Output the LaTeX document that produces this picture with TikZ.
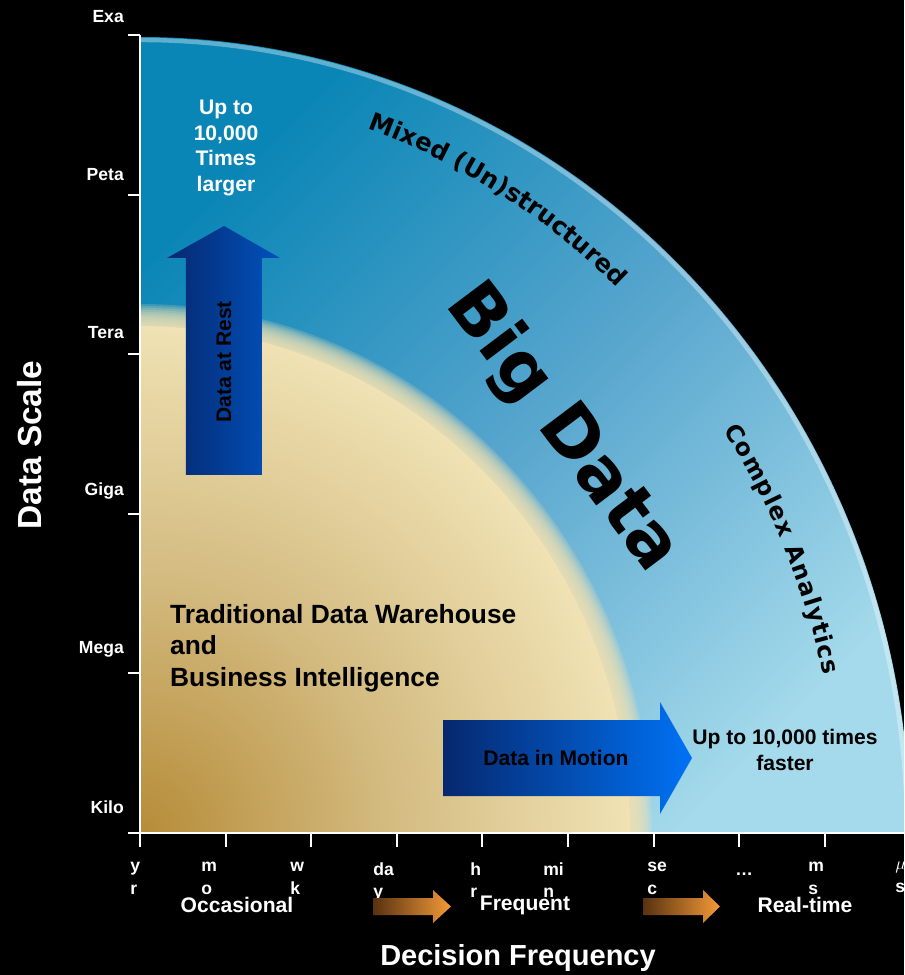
\documentclass[tikz,border=0pt]{standalone}
\usepackage{fontspec}
\setmainfont{Liberation Sans}
\newfontfamily\roundfont{DejaVu Sans}
\usepackage{tikz}
\usetikzlibrary{positioning, decorations.text}
\definecolor{deepteal}{RGB}{10,134,182}
\definecolor{midblue}{RGB}{88,166,206}
\definecolor{paleblue}{RGB}{164,218,235}
\definecolor{darkgold}{RGB}{182,140,56}
\definecolor{tanbeige}{RGB}{212,188,130}
\definecolor{cream}{RGB}{240,226,180}
\definecolor{navyblue}{RGB}{6,40,110}
\definecolor{brightblue}{RGB}{0,114,245}
\definecolor{restblue}{RGB}{0,82,190}
\definecolor{rustbrown}{RGB}{88,50,16}
\definecolor{flameorange}{RGB}{244,154,56}
\pgfdeclareradialshading{warehouse}{\pgfpointorigin}{color(0bp)=(darkgold); color(13bp)=(tanbeige); color(25bp)=(cream); color(50bp)=(cream)}

\begin{document}
\begin{tikzpicture}[x=0.02cm, y=0.02cm,
    axislabel/.style={text=white, font=\bfseries\fontsize{10}{13}\selectfont},
    ticklabel/.style={text=white, font=\bfseries\fontsize{10}{13}\selectfont, align=left, anchor=north west, inner sep=0pt},
    phase/.style={text=white, font=\bfseries\fontsize{12}{14}\selectfont},
    bodytext/.style={font=\bfseries\fontsize{12}{14.5}\selectfont, align=center}]
    % Canvas
    \clip (-140,-142) rectangle (764,833);
    \fill[black] (-140,-142) rectangle (764,833);

    % Big data quadrant
    \shade[top color=deepteal, bottom color=paleblue, middle color=midblue, shading angle=45]
        (0,0) -- (0,796) arc[start angle=90, end angle=0, x radius=770, y radius=796] -- cycle;
    \draw[white, opacity=0.35, line width=2.5pt]
        (0,793) arc[start angle=90, end angle=0, x radius=767, y radius=793];

    % Warehouse quadrant with a soft rim
    \begin{scope}
        \clip (0,0) rectangle (770,800);
        \foreach \d in {12,10,...,-8}
            \shade[shading=warehouse, opacity=0.2]
                (0,0) ellipse [x radius=500+\d, y radius=517+\d];
        \shade[shading=warehouse]
            (0,0) ellipse [x radius=490, y radius=507];
    \end{scope}

    % Axes and ticks
    \draw[white, line width=1.1pt] (0,-14) -- (0,798);
    \draw[white, line width=1.1pt] (0,0) -- (764,0);
    \foreach \k in {0,...,5}
        \draw[white, line width=1.1pt] (-12,159.6*\k) -- (0,159.6*\k);
    \foreach \k in {0,...,8}
        \draw[white, line width=1.1pt] (85.6*\k,0) -- (85.6*\k,-14);

    % Scale labels
    \foreach \yy/\name in {816/Exa,658/Peta,500/Tera,342/Giga,184/Mega,26/Kilo}
        \node[axislabel, anchor=east] (\name) at (-10,\yy) {\name};
    \foreach \xx/\name/\txt in {-10/yr/{y\\r}, 61/mo/{m\\o}, 150/wk/{w\\k}, 233/day/{da\\y},
            330/hr/{h\\r}, 403/min/{mi\\n}, 507/sec/{se\\c}, 595/dots/{\vphantom{d}\ldots}, 668/ms/{m\\s},
            755/us/{$\mu$\\s}}
        \node[ticklabel] (f-\name) at (\xx,-29) {\txt};

    \node[text=white, font=\bfseries\fontsize{19}{21}\selectfont, rotate=90] (datascale) at (-110,388) {Data Scale};

    % Frequency phases
    \node[phase] (occasional) at (97,-72) {Occasional};
    \node[phase] (frequent) at (385,-72) {Frequent};
    \node[phase] (realtime) at (665,-72) {Real-time};
    \shade[left color=rustbrown, right color=flameorange]
        (233,-65) -- (293,-65) -- (293,-57) -- (311,-73.5) -- (293,-90) -- (293,-82) -- (233,-82) -- cycle;
    \shade[left color=rustbrown, right color=flameorange]
        (503,-65) -- (563,-65) -- (563,-57) -- (580,-73.5) -- (563,-90) -- (563,-82) -- (503,-82) -- cycle;
    \node[text=white, font=\bfseries\fontsize{16.5}{18}\selectfont] (decfreq) at (378,-125) {Decision Frequency};

    % Data at rest
    \shade[left color=navyblue, right color=restblue]
        (46,358) -- (122,358) -- (122,575) -- (140,575) -- (84,607) -- (27,575) -- (46,575) -- cycle;
    \node[bodytext, rotate=90] (rest) at (84,471) {Data at Rest};
    \node[bodytext, text=white] (larger) at (86,685) {Up to\\10,000\\Times\\larger};

    % Data in motion
    \shade[left color=navyblue, right color=brightblue]
        (303,37) -- (520,37) -- (520,19) -- (552,75) -- (520,131) -- (520,113) -- (303,113) -- cycle;
    \node[bodytext] (motion) at (416,75) {Data in Motion};
    \node[bodytext] (faster) at (645,83) {Up to 10,000 times\\faster};

    % Quadrant captions
    \node[font=\bfseries\fontsize{15}{18}\selectfont, align=left, anchor=west] (warehouse) at (24,185)
        {Traditional Data Warehouse\\and\\Business Intelligence};
    \node[font=\roundfont\bfseries\fontsize{40}{40}\selectfont, rotate=-53] (bigdata) at (422,405) {Big Data};
    \path[decorate, decoration={text along path, text align=fit to path,
            text={|\roundfont\bfseries\fontsize{14}{14}\selectfont|Mixed (Un)structured}}]
        (71:700 and 745) arc[start angle=71, end angle=47.5, x radius=700, y radius=745];
    \path[decorate, decoration={text along path, text align=fit to path,
            text={|\roundfont\bfseries\fontsize{13.5}{13.5}\selectfont|Complex Analytics}}]
        (33.5:700 and 730) arc[start angle=33.5, end angle=12.5, x radius=700, y radius=730];
\end{tikzpicture}
\end{document}
